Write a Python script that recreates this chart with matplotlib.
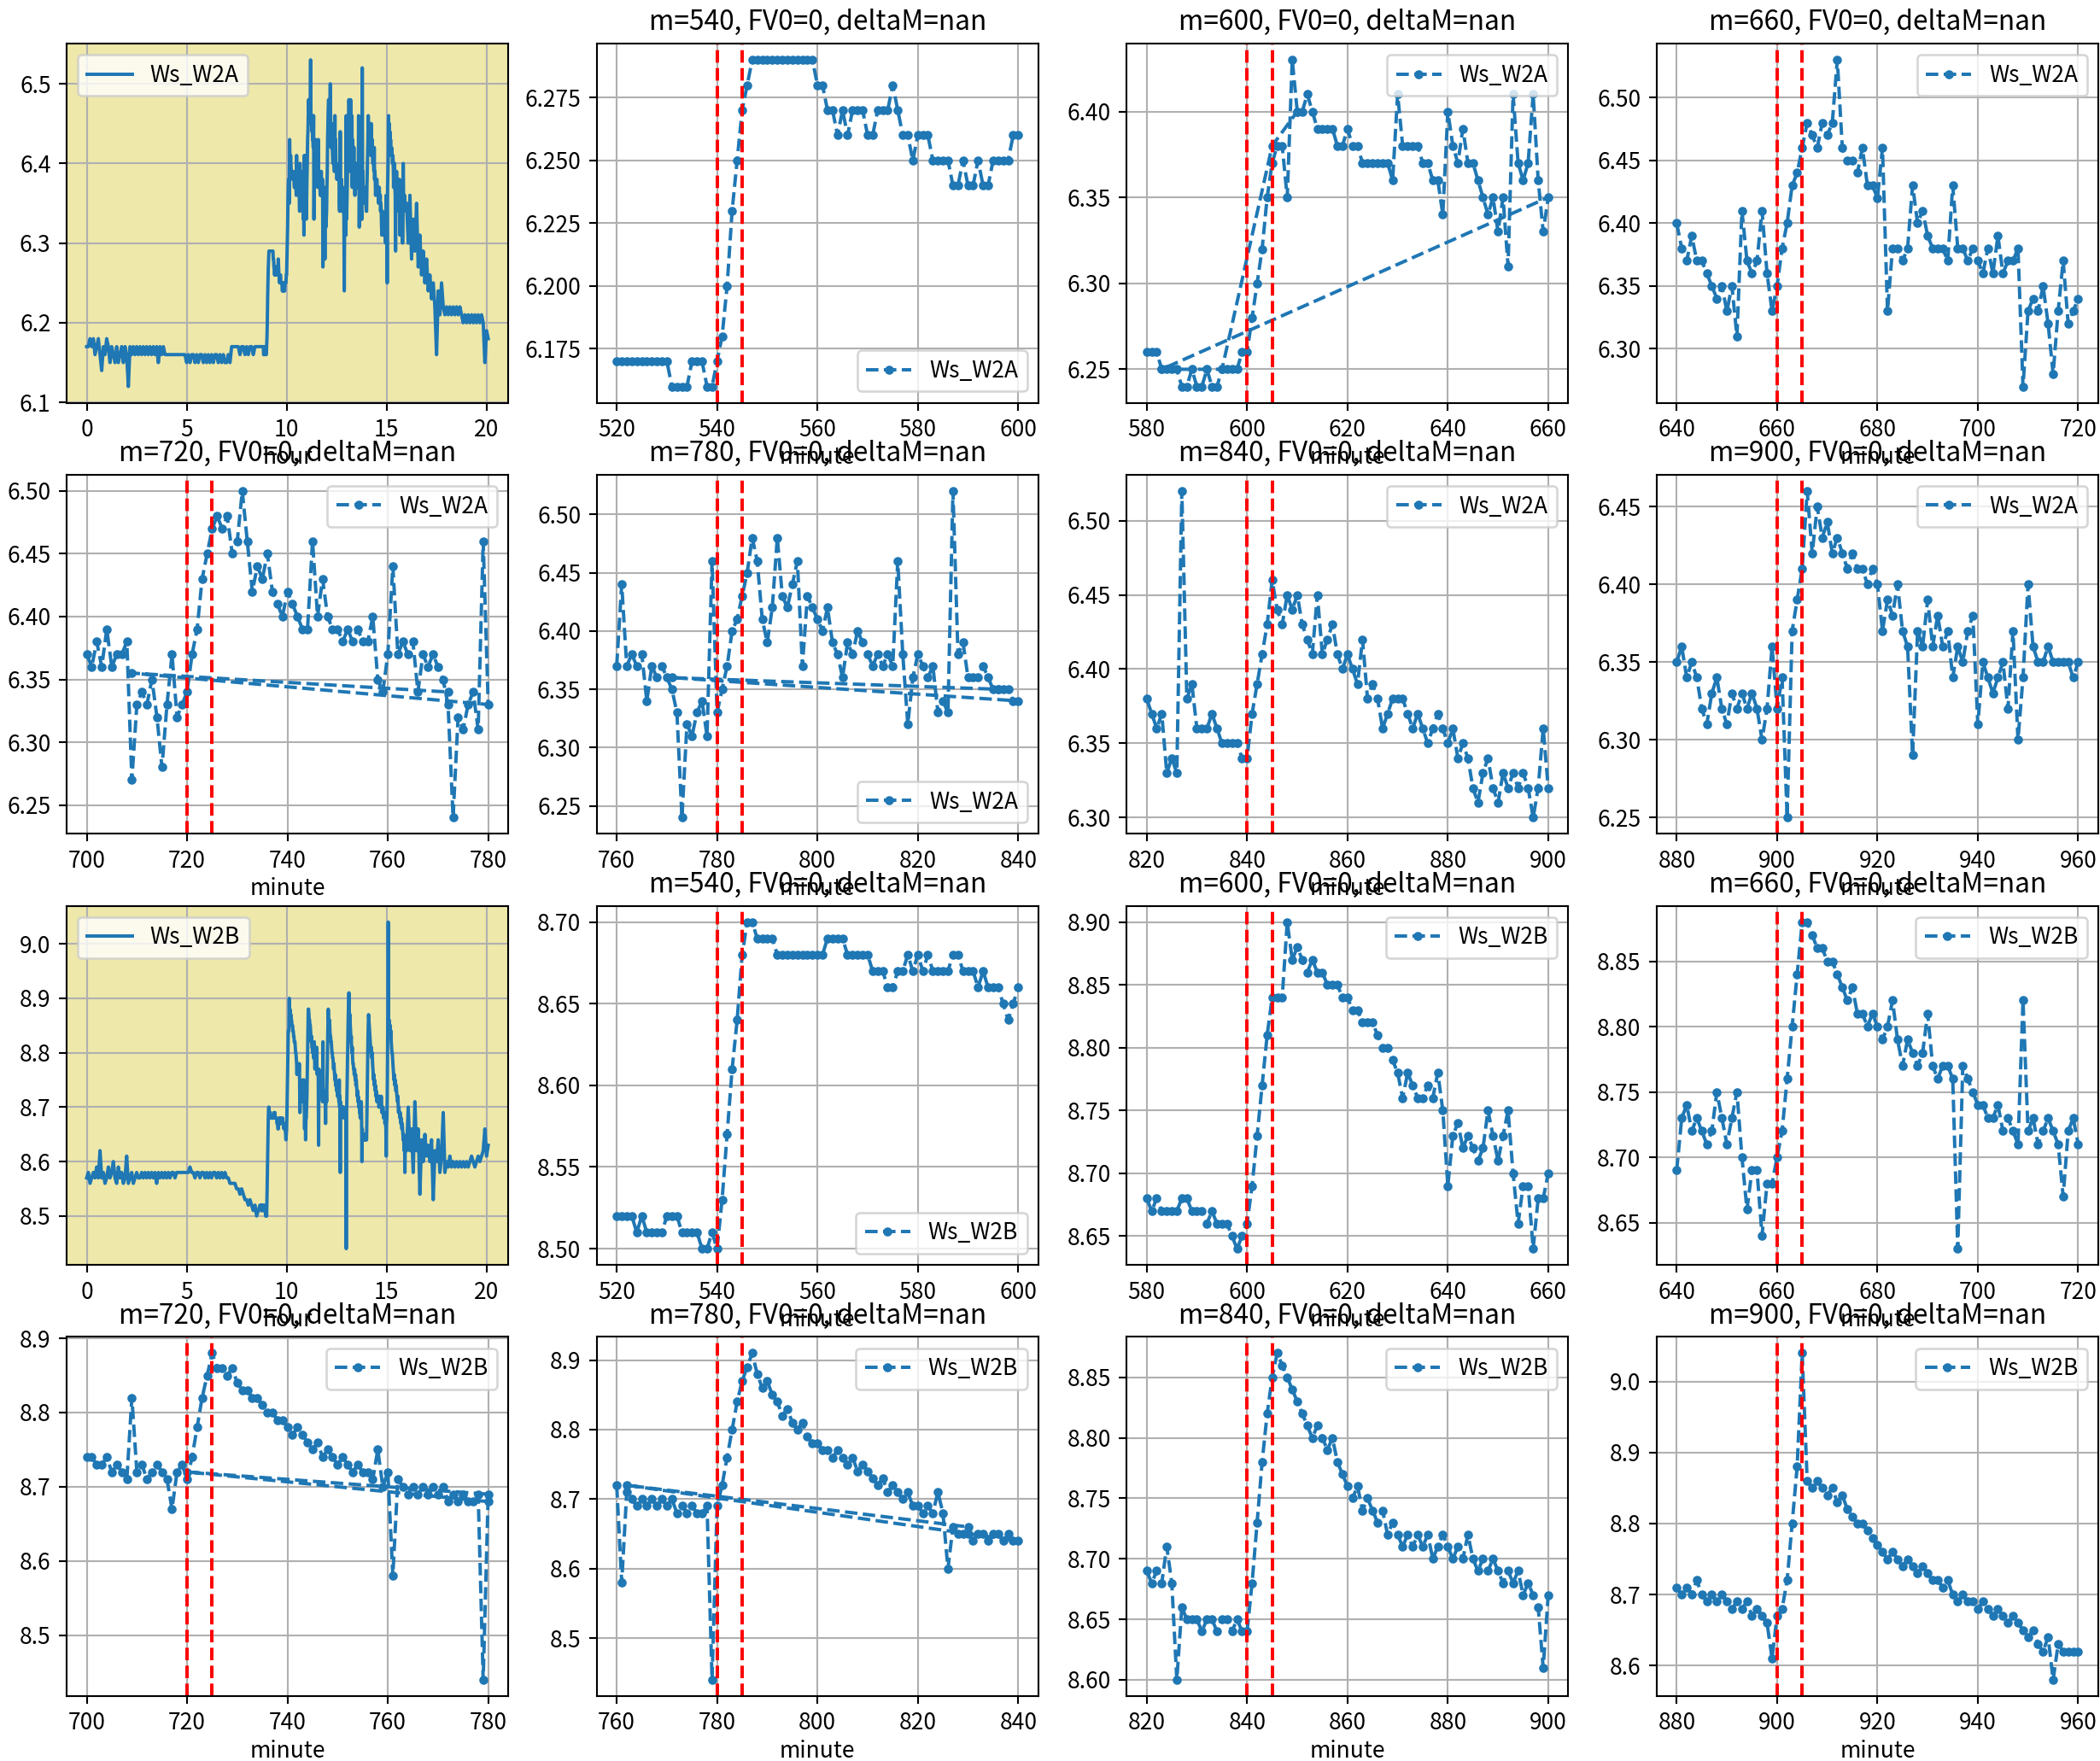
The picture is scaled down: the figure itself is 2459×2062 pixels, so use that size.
import numpy as np
import matplotlib
matplotlib.use('Agg')
import matplotlib.pyplot as plt

plt.rcParams['font.family'] = ['Noto Sans CJK SC', 'DejaVu Sans']
plt.rcParams['axes.unicode_minus'] = False

# one reading per minute, minute 520 .. 960
minute_start = 520
w2a_min = [
    6.17, 6.17, 6.17, 6.17, 6.17, 6.17, 6.17, 6.17, 6.17, 6.17,
    6.17, 6.16, 6.16, 6.16, 6.16, 6.17, 6.17, 6.17, 6.16, 6.16,
    6.17, 6.18, 6.20, 6.23, 6.25, 6.27, 6.28, 6.29, 6.29, 6.29,
    6.29, 6.29, 6.29, 6.29, 6.29, 6.29, 6.29, 6.29, 6.29, 6.29,
    6.28, 6.28, 6.27, 6.27, 6.26, 6.27, 6.26, 6.27, 6.27, 6.27,
    6.26, 6.26, 6.27, 6.27, 6.27, 6.28, 6.27, 6.26, 6.26, 6.25,
    6.26, 6.26, 6.26, 6.25, 6.25, 6.25, 6.25, 6.24, 6.24, 6.25,
    6.24, 6.24, 6.25, 6.24, 6.24, 6.25, 6.25, 6.25, 6.25, 6.26,
    6.26, 6.28, 6.30, 6.32, 6.35, 6.37, 6.38, 6.38, 6.35, 6.43,
    6.40, 6.40, 6.41, 6.40, 6.39, 6.39, 6.39, 6.39, 6.38, 6.38,
    6.39, 6.38, 6.38, 6.37, 6.37, 6.37, 6.37, 6.37, 6.37, 6.36,
    6.41, 6.38, 6.38, 6.38, 6.38, 6.37, 6.37, 6.36, 6.36, 6.34,
    6.40, 6.38, 6.37, 6.39, 6.37, 6.37, 6.36, 6.35, 6.34, 6.35,
    6.33, 6.35, 6.31, 6.41, 6.37, 6.36, 6.37, 6.41, 6.36, 6.33,
    6.35, 6.38, 6.40, 6.43, 6.44, 6.46, 6.48, 6.47, 6.46, 6.48,
    6.47, 6.48, 6.53, 6.46, 6.45, 6.45, 6.44, 6.46, 6.43, 6.43,
    6.42, 6.46, 6.33, 6.38, 6.38, 6.37, 6.38, 6.43, 6.40, 6.41,
    6.39, 6.38, 6.38, 6.38, 6.37, 6.43, 6.38, 6.38, 6.37, 6.38,
    6.37, 6.36, 6.38, 6.36, 6.39, 6.36, 6.37, 6.37, 6.38, 6.27,
    6.33, 6.34, 6.33, 6.35, 6.32, 6.28, 6.33, 6.37, 6.32, 6.33,
    6.34, 6.37, 6.39, 6.43, 6.45, 6.47, 6.48, 6.47, 6.48, 6.45,
    6.46, 6.50, 6.46, 6.42, 6.44, 6.43, 6.45, 6.42, 6.41, 6.40,
    6.42, 6.41, 6.40, 6.39, 6.39, 6.46, 6.40, 6.43, 6.40, 6.39,
    6.39, 6.38, 6.39, 6.38, 6.39, 6.38, 6.38, 6.40, 6.35, 6.34,
    6.37, 6.44, 6.37, 6.38, 6.37, 6.38, 6.34, 6.37, 6.36, 6.37,
    6.36, 6.35, 6.33, 6.24, 6.32, 6.31, 6.33, 6.34, 6.31, 6.46,
    6.33, 6.35, 6.37, 6.40, 6.41, 6.43, 6.45, 6.48, 6.46, 6.41,
    6.39, 6.42, 6.48, 6.43, 6.42, 6.44, 6.46, 6.37, 6.43, 6.42,
    6.41, 6.40, 6.42, 6.39, 6.38, 6.36, 6.39, 6.38, 6.40, 6.39,
    6.38, 6.37, 6.38, 6.37, 6.38, 6.37, 6.46, 6.38, 6.32, 6.36,
    6.38, 6.37, 6.36, 6.37, 6.33, 6.34, 6.33, 6.52, 6.38, 6.39,
    6.36, 6.36, 6.36, 6.37, 6.36, 6.35, 6.35, 6.35, 6.35, 6.34,
    6.34, 6.37, 6.39, 6.41, 6.43, 6.46, 6.44, 6.43, 6.45, 6.44,
    6.45, 6.43, 6.42, 6.41, 6.45, 6.41, 6.42, 6.43, 6.41, 6.40,
    6.41, 6.40, 6.39, 6.42, 6.38, 6.39, 6.38, 6.36, 6.37, 6.38,
    6.38, 6.38, 6.37, 6.36, 6.37, 6.36, 6.35, 6.36, 6.37, 6.36,
    6.35, 6.36, 6.34, 6.35, 6.34, 6.32, 6.31, 6.33, 6.34, 6.32,
    6.31, 6.33, 6.32, 6.33, 6.32, 6.33, 6.32, 6.30, 6.32, 6.36,
    6.32, 6.34, 6.25, 6.37, 6.39, 6.41, 6.46, 6.42, 6.45, 6.43,
    6.44, 6.42, 6.43, 6.42, 6.41, 6.42, 6.41, 6.41, 6.40, 6.41,
    6.40, 6.37, 6.39, 6.38, 6.40, 6.37, 6.36, 6.29, 6.37, 6.36,
    6.39, 6.36, 6.38, 6.36, 6.37, 6.34, 6.36, 6.35, 6.37, 6.38,
    6.31, 6.35, 6.34, 6.33, 6.34, 6.35, 6.32, 6.37, 6.30, 6.34,
    6.40, 6.36, 6.35, 6.35, 6.36, 6.35, 6.35, 6.35, 6.35, 6.34,
    6.35,
]
w2b_min = [
    8.52, 8.52, 8.52, 8.52, 8.51, 8.52, 8.51, 8.51, 8.51, 8.51,
    8.52, 8.52, 8.52, 8.51, 8.51, 8.51, 8.51, 8.50, 8.50, 8.51,
    8.50, 8.53, 8.57, 8.61, 8.64, 8.68, 8.70, 8.70, 8.69, 8.69,
    8.69, 8.69, 8.68, 8.68, 8.68, 8.68, 8.68, 8.68, 8.68, 8.68,
    8.68, 8.68, 8.69, 8.69, 8.69, 8.69, 8.68, 8.68, 8.68, 8.68,
    8.68, 8.67, 8.67, 8.67, 8.66, 8.66, 8.67, 8.67, 8.68, 8.67,
    8.68, 8.67, 8.68, 8.67, 8.67, 8.67, 8.67, 8.68, 8.68, 8.67,
    8.67, 8.67, 8.66, 8.67, 8.66, 8.66, 8.66, 8.65, 8.64, 8.65,
    8.66, 8.69, 8.73, 8.77, 8.81, 8.84, 8.84, 8.84, 8.90, 8.87,
    8.88, 8.87, 8.86, 8.87, 8.86, 8.86, 8.85, 8.85, 8.85, 8.84,
    8.84, 8.83, 8.83, 8.82, 8.82, 8.82, 8.81, 8.80, 8.80, 8.79,
    8.78, 8.76, 8.78, 8.77, 8.76, 8.76, 8.77, 8.76, 8.78, 8.75,
    8.69, 8.73, 8.74, 8.72, 8.73, 8.72, 8.71, 8.72, 8.75, 8.73,
    8.71, 8.73, 8.75, 8.70, 8.66, 8.69, 8.69, 8.64, 8.68, 8.68,
    8.70, 8.72, 8.76, 8.80, 8.84, 8.88, 8.88, 8.87, 8.86, 8.86,
    8.85, 8.85, 8.84, 8.83, 8.82, 8.83, 8.81, 8.81, 8.80, 8.81,
    8.80, 8.79, 8.80, 8.82, 8.79, 8.77, 8.79, 8.78, 8.77, 8.78,
    8.81, 8.77, 8.76, 8.77, 8.77, 8.76, 8.63, 8.77, 8.76, 8.75,
    8.74, 8.74, 8.73, 8.73, 8.74, 8.72, 8.73, 8.72, 8.71, 8.82,
    8.72, 8.73, 8.71, 8.72, 8.73, 8.72, 8.71, 8.67, 8.72, 8.73,
    8.71, 8.74, 8.78, 8.82, 8.85, 8.88, 8.86, 8.86, 8.85, 8.86,
    8.84, 8.83, 8.83, 8.82, 8.82, 8.81, 8.80, 8.80, 8.79, 8.79,
    8.78, 8.77, 8.78, 8.77, 8.76, 8.75, 8.76, 8.74, 8.75, 8.74,
    8.73, 8.74, 8.73, 8.72, 8.73, 8.72, 8.72, 8.71, 8.75, 8.70,
    8.72, 8.58, 8.71, 8.70, 8.69, 8.70, 8.69, 8.70, 8.69, 8.70,
    8.69, 8.70, 8.68, 8.69, 8.68, 8.69, 8.68, 8.68, 8.69, 8.44,
    8.69, 8.72, 8.76, 8.80, 8.84, 8.87, 8.89, 8.91, 8.88, 8.86,
    8.87, 8.85, 8.84, 8.82, 8.83, 8.81, 8.80, 8.81, 8.79, 8.78,
    8.78, 8.77, 8.77, 8.76, 8.77, 8.76, 8.75, 8.76, 8.74, 8.75,
    8.74, 8.73, 8.72, 8.73, 8.71, 8.72, 8.71, 8.70, 8.71, 8.69,
    8.69, 8.68, 8.69, 8.68, 8.71, 8.68, 8.60, 8.66, 8.65, 8.65,
    8.65, 8.64, 8.65, 8.65, 8.64, 8.65, 8.65, 8.64, 8.65, 8.64,
    8.64, 8.68, 8.73, 8.78, 8.82, 8.85, 8.87, 8.86, 8.85, 8.84,
    8.83, 8.82, 8.81, 8.80, 8.81, 8.80, 8.79, 8.80, 8.78, 8.77,
    8.76, 8.75, 8.76, 8.74, 8.75, 8.74, 8.73, 8.74, 8.72, 8.73,
    8.72, 8.71, 8.72, 8.71, 8.72, 8.71, 8.72, 8.70, 8.71, 8.72,
    8.71, 8.70, 8.71, 8.70, 8.72, 8.70, 8.69, 8.70, 8.69, 8.70,
    8.69, 8.68, 8.69, 8.68, 8.69, 8.67, 8.68, 8.67, 8.66, 8.61,
    8.67, 8.68, 8.72, 8.80, 8.88, 9.04, 8.86, 8.85, 8.86, 8.85,
    8.84, 8.85, 8.83, 8.84, 8.82, 8.81, 8.80, 8.80, 8.79, 8.78,
    8.77, 8.76, 8.75, 8.76, 8.75, 8.74, 8.75, 8.74, 8.73, 8.74,
    8.73, 8.72, 8.72, 8.71, 8.72, 8.70, 8.69, 8.70, 8.69, 8.69,
    8.68, 8.69, 8.68, 8.67, 8.68, 8.67, 8.66, 8.67, 8.66, 8.65,
    8.64, 8.65, 8.63, 8.62, 8.64, 8.58, 8.63, 8.62, 8.62, 8.62,
    8.62,
]

# coarser readings (every 5 min) for the rest of the day
w2a_early = [  # minute 0 .. 515
    6.17, 6.17, 6.18, 6.17, 6.18, 6.16, 6.17, 6.18, 6.16, 6.14, 6.17, 6.16,
    6.18, 6.17, 6.15, 6.17, 6.16, 6.15, 6.17, 6.15, 6.16, 6.17, 6.15, 6.17,
    6.16, 6.12, 6.17, 6.16, 6.17, 6.16, 6.17, 6.16, 6.17, 6.16, 6.17, 6.16,
    6.17, 6.16, 6.17, 6.16, 6.17, 6.16, 6.17, 6.15, 6.17, 6.16, 6.17, 6.16,
    6.16, 6.16, 6.16, 6.16, 6.16, 6.16, 6.16, 6.16, 6.16, 6.16, 6.16, 6.16,
    6.15, 6.16, 6.15, 6.16, 6.16, 6.15, 6.16, 6.15, 6.16, 6.16, 6.15, 6.16,
    6.15, 6.16, 6.15, 6.16, 6.15, 6.16, 6.16, 6.15, 6.16, 6.15, 6.16, 6.15,
    6.15, 6.16, 6.15, 6.17, 6.17, 6.17, 6.17, 6.17, 6.16, 6.17, 6.17, 6.16,
    6.17, 6.16, 6.17, 6.17, 6.16, 6.17, 6.17, 6.17,
]
w2a_late = [  # minute 965 .. 1205
    6.30, 6.36, 6.28, 6.33, 6.29, 6.35, 6.27, 6.31, 6.26, 6.29,
    6.25, 6.28, 6.24, 6.26, 6.23, 6.25, 6.22, 6.16, 6.24, 6.21,
    6.25, 6.22, 6.21, 6.22, 6.21, 6.22, 6.21, 6.22, 6.21, 6.22,
    6.21, 6.22, 6.21, 6.20, 6.21, 6.20, 6.21, 6.20, 6.21, 6.20,
    6.21, 6.20, 6.21, 6.20, 6.21, 6.20, 6.15, 6.19, 6.18,
]
w2b_early = [
    8.57, 8.58, 8.56, 8.57, 8.58, 8.57, 8.59, 8.57, 8.62, 8.57, 8.58, 8.56,
    8.57, 8.59, 8.57, 8.58, 8.60, 8.57, 8.56, 8.59, 8.57, 8.58, 8.56, 8.57,
    8.61, 8.56, 8.57, 8.58, 8.56, 8.57, 8.58, 8.57, 8.57, 8.58, 8.57, 8.58,
    8.57, 8.58, 8.57, 8.58, 8.57, 8.58, 8.56, 8.58, 8.57, 8.58, 8.57, 8.58,
    8.57, 8.58, 8.57, 8.58, 8.58, 8.57, 8.58, 8.58, 8.58, 8.58, 8.58, 8.58,
    8.58, 8.58, 8.59, 8.58, 8.58, 8.57, 8.58, 8.58, 8.57, 8.58, 8.58, 8.57,
    8.58, 8.57, 8.58, 8.57, 8.58, 8.58, 8.57, 8.58, 8.57, 8.58, 8.57, 8.58,
    8.57, 8.57, 8.56, 8.56, 8.56, 8.56, 8.55, 8.55, 8.54, 8.55, 8.54, 8.53,
    8.53, 8.52, 8.53, 8.52, 8.51, 8.52, 8.50, 8.51,
]
w2b_late = [
    8.70, 8.62, 8.66, 8.58, 8.71, 8.62, 8.66, 8.54, 8.64, 8.60,
    8.65, 8.61, 8.63, 8.60, 8.64, 8.53, 8.62, 8.60, 8.64, 8.58,
    8.61, 8.69, 8.58, 8.60, 8.59, 8.61, 8.59, 8.60, 8.59, 8.60,
    8.59, 8.60, 8.59, 8.60, 8.59, 8.60, 8.59, 8.60, 8.61, 8.60,
    8.59, 8.60, 8.61, 8.60, 8.61, 8.62, 8.66, 8.61, 8.63,
]

windows = [540, 600, 660, 720, 780, 840, 900]
# out-of-order records that end up at the end of some windows
w2a_extra = {600: ([583, 595, 605, 610], [6.25, 6.25, 6.38, 6.40]),
             720: ([709, 772], [6.355, 6.34]),
             780: ([771, 836], [6.36, 6.35])}
w2b_extra = {720: ([720, 780], [8.72, 8.68]),
             780: ([762, 830], [8.72, 8.66])}

# legend placement per window, as in the original figure
w2a_legend = ['lower right', 'upper right', 'upper right', 'upper right',
              'lower right', 'upper right', 'upper right']
w2b_legend = ['lower right', 'upper right', 'upper right', 'upper right',
              'upper right', 'upper right', 'upper right']

minutes = np.arange(minute_start, minute_start + len(w2a_min))
hours = np.concatenate([np.arange(0, 520, 5), minutes, np.arange(965, 1210, 5)]) / 60


def draw_day(ax, early, mid, late, name):
    ax.set_facecolor('palegoldenrod')
    ax.plot(hours, np.concatenate([early, mid, late]), label=name)
    ax.set_xlabel('hour', labelpad=2)
    ax.grid(True)
    ax.legend(loc='upper left')


def draw_window(ax, y, m, extra, name, loc):
    sel = (minutes >= m - 20) & (minutes <= m + 60)
    x = minutes[sel]
    v = np.asarray(y)[sel]
    if m in extra:
        x = np.concatenate([x, extra[m][0]])
        v = np.concatenate([v, extra[m][1]])
    ax.plot(x, v, '--.', label=name)
    ax.axvline(m, color='r', linestyle='--')
    ax.axvline(m + 5, color='r', linestyle='--')
    ax.set_title('m=%d, FV0=0, deltaM=nan' % m)
    ax.set_xlabel('minute', labelpad=2)
    ax.grid(True)
    ax.legend(loc=loc)


fig, axes = plt.subplots(4, 4, figsize=(2459 / 190, 2062 / 190), dpi=190)
fig.subplots_adjust(left=78 / 2459, right=2457 / 2459,
                    bottom=1 - 1986 / 2062, top=1 - 51 / 2062,
                    wspace=0.2, hspace=0.2)

for block, (ser, early, late, extra, name, locs) in enumerate([
        (w2a_min, w2a_early, w2a_late, w2a_extra, 'Ws_W2A', w2a_legend),
        (w2b_min, w2b_early, w2b_late, w2b_extra, 'Ws_W2B', w2b_legend)]):
    flat = axes[2 * block:2 * block + 2].ravel()
    draw_day(flat[0], early, ser, late, name)
    for ax, m, loc in zip(flat[1:], windows, locs):
        draw_window(ax, ser, m, extra, name, loc)

fig.savefig('out.png', dpi=190)
